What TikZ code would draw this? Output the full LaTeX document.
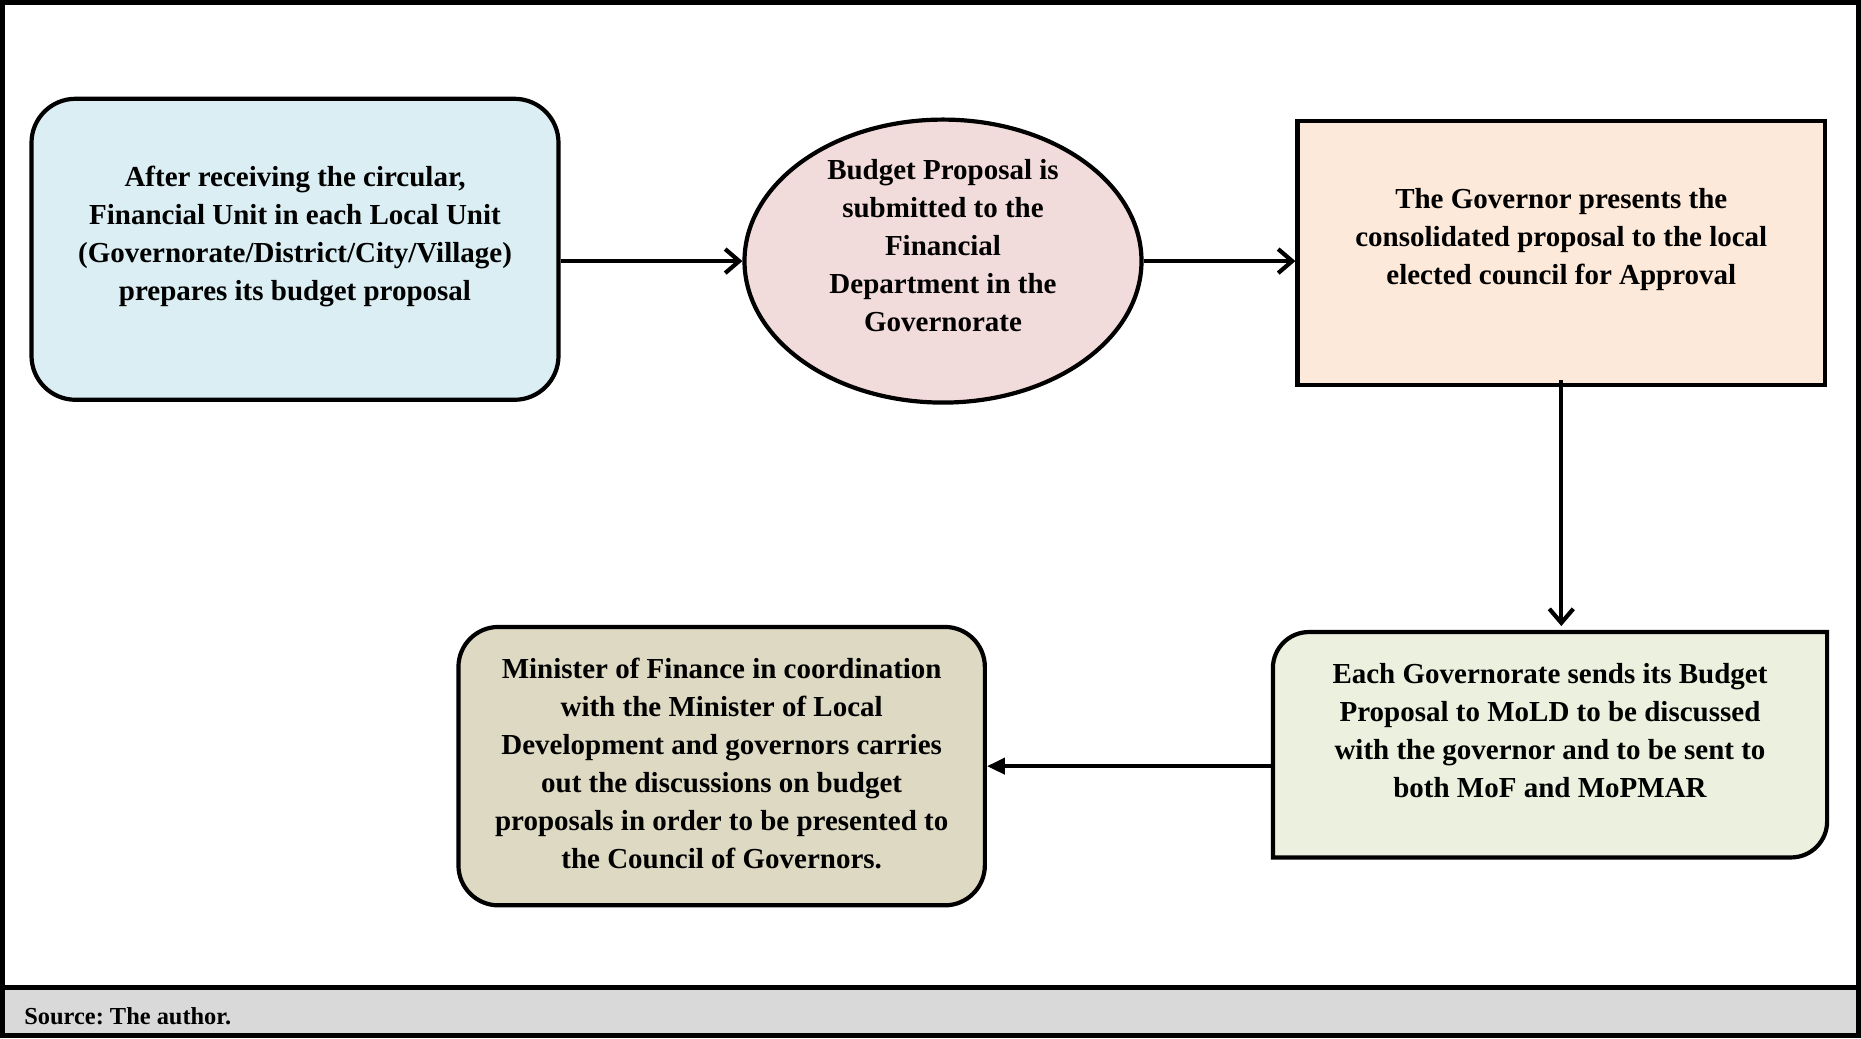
\documentclass[tikz,border=0pt]{standalone}
\usepackage{fontspec}
\setmainfont{Liberation Serif}
\frenchspacing
\usetikzlibrary{shapes.geometric,arrows.meta,backgrounds}

\definecolor{unitfill}{HTML}{DAEEF3}
\definecolor{deptfill}{HTML}{F2DCDB}
\definecolor{govfill}{HTML}{FDE9D9}
\definecolor{moldfill}{HTML}{EBF1DE}
\definecolor{moffill}{HTML}{DDD9C3}
\definecolor{notefill}{HTML}{D9D9D9}

\tikzset{
  stage/.style={draw, line width=2.1pt, align=center, inner sep=4pt,
    font=\fontsize{14.5}{19}\selectfont\bfseries},
  flow/.style={line width=2.1pt, -{Straight Barb[length=7pt,width=12pt,line width=2.1pt]}},
}

\begin{document}
\begin{tikzpicture}[x=0.5pt,y=0.5pt]
\useasboundingbox (0,0) rectangle (1861,1038);
\fill[notefill] (0,5) rectangle (1861,49);
\draw[line width=2.5pt] (0,50.5) -- (1861,50.5);
\draw[line width=2.5pt] (2.5,2.5) rectangle (1858.5,1035.5);
\node[anchor=west, inner sep=4pt, font=\fontsize{12.2}{14}\selectfont\bfseries] (source) at (16,22) {Source: The author.};

\node[stage, rounded corners=22pt, fill=unitfill, minimum width=263.5pt, minimum height=150.5pt, text depth=15.5pt] (unit) at (295,788.7)
  {After receiving the circular,\\ Financial Unit in each Local Unit\\ (Governorate/District/City/Village)\\ prepares its budget proposal};
\node[stage, ellipse, inner sep=0pt, fill=deptfill, minimum width=198.5pt, minimum height=141.5pt, text height=70pt, text depth=0pt] (dept) at (943,776.9)
  {Budget Proposal is\\ submitted to the\\ Financial\\ Department in the\\ Governorate};
\node[stage, fill=govfill, minimum width=263.8pt, minimum height=132pt, text depth=16.5pt] (gov) at (1561.3,784.6)
  {The Governor presents the\\ consolidated proposal to the local\\ elected council for Approval};
\node[stage, draw=none, minimum width=275pt, minimum height=110.6pt, text depth=14pt] (mold) at (1550,293.25)
  {Each Governorate sends its Budget\\ Proposal to MoLD to be discussed\\ with the governor and to be sent to\\ both MoF and MoPMAR};
\node[stage, rounded corners=20pt, fill=moffill, minimum width=263.2pt, minimum height=139.2pt, text depth=3pt] (mof) at (721.65,271.85)
  {Minister of Finance in coordination\\ with the Minister of Local\\ Development and governors carries\\ out the discussions on budget\\ proposals in order to be presented to\\ the Council of Governors.};

\begin{pgfonlayer}{background}
\draw[line width=2.1pt, fill=moldfill] ([xshift=18pt]mold.north west) -- (mold.north east)
  -- ([yshift=18pt]mold.south east) arc[start angle=0, end angle=-90, radius=18pt]
  -- (mold.south west) -- ([yshift=-18pt]mold.north west) arc[start angle=180, end angle=90, radius=18pt] -- cycle;
\end{pgfonlayer}

\draw[flow] (unit.east |- dept.west) -- (dept.west);
\draw[flow] (dept.east) -- (dept.east -| gov.west);
\draw[flow, shorten >=3pt] ([yshift=3.5pt]gov.south) -- (gov.south |- mold.north);
\draw[line width=2.1pt, -{Triangle[length=9pt,width=8pt]}] (mold.west |- mof.east) -- (mof.east);
\end{tikzpicture}
\end{document}
